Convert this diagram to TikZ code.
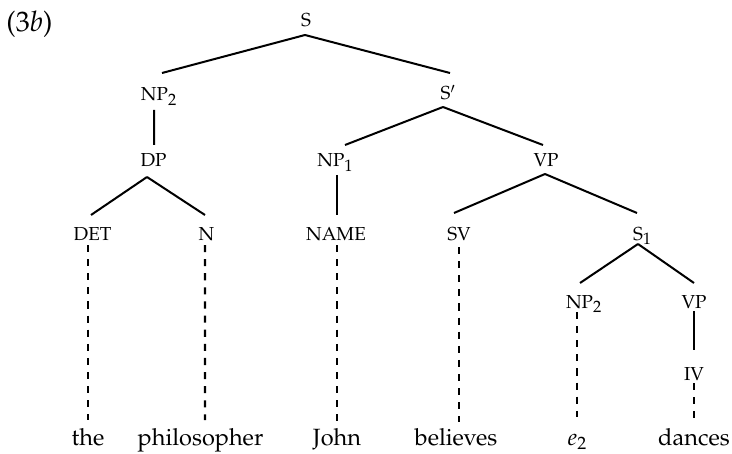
\documentclass[tikz,border=0pt]{standalone}
\usepackage[T1]{fontenc}
\usepackage[sc]{mathpazo}
\usetikzlibrary{calc}
\newcommand{\mysub}[1]{\raisebox{-1.9pt}{\scriptsize #1}}
\begin{document}
\begin{tikzpicture}[x=0.425pt,y=-0.425pt,
  cat/.style={anchor=base,inner sep=0pt,font=\footnotesize},
  word/.style={anchor=base,inner sep=0pt,font=\normalsize},
  branch/.style={line width=0.85pt},
  dashbranch/.style={line width=0.9pt,dash pattern=on 3pt off 3pt}]
\useasboundingbox (0,0) rectangle (732,454);
% label
\node[anchor=base west,inner sep=0pt,font=\large] (lbl) at (6,32) {(3\textit{b})};
% category nodes
\node[cat] (s)    at (306,27)    {S};
\node[cat] (np2)  at (154.5,101) {NP\rlap{\mysub{2}}};
\node[cat] (sp)   at (445.5,100) {S\rlap{$'$}};
\node[cat] (dp)   at (153.5,167) {DP};
\node[cat] (np1)  at (335,167)   {NP\mysub{1}};
\node[cat] (vp)   at (546,167)   {VP};
\node[cat] (det)  at (92.5,240)  {DET};
\node[cat] (n)    at (206.5,240) {N};
\node[cat] (name) at (336,240)   {NAME};
\node[cat] (sv)   at (459,240)   {SV};
\node[cat] (s1)   at (638,240)   {S\rlap{\mysub{1}}};
\node[cat] (np2b) at (579.5,308) {NP\rlap{\mysub{2}}};
\node[cat] (vpb)  at (694,308)   {VP};
\node[cat] (iv)   at (694,380)   {IV};
% words
\node[word] (the)  at (88,445)    {the};
\node[word] (phil) at (200.5,445) {philosopher};
\node[word] (john) at (337,445)   {John};
\node[word] (bel)  at (456,445)   {believes};
\node[word] (e2)   at (577.5,445) {$e_2$};
\node[word] (dan)  at (694,445)   {dances};
% solid branches
\draw[branch] ($(s.base)+(-1,8)$) -- ($(np2.base)+(7.5,-28)$);
\draw[branch] ($(s.base)+(-1,8)$) -- ($(sp.base)+(4.5,-27)$);
\draw[branch] ($(np2.base)+(-0.5,9)$) -- ($(dp.base)+(0.5,-22)$);
\draw[branch] ($(dp.base)+(-6.5,10)$) -- ($(det.base)+(-1.5,-25)$);
\draw[branch] ($(dp.base)+(-6.5,10)$) -- ($(n.base)+(-1.5,-25)$);
\draw[branch] ($(sp.base)+(-2.5,7)$) -- ($(np1.base)+(10,-22)$);
\draw[branch] ($(sp.base)+(-2.5,7)$) -- ($(vp.base)+(-3,-22)$);
\draw[branch] ($(np1.base)+(2,8)$) -- ($(name.base)+(1,-25)$);
\draw[branch] ($(vp.base)+(-1,7)$) -- ($(sv.base)+(-5,-27)$);
\draw[branch] ($(vp.base)+(-1,7)$) -- ($(s1.base)+(-1,-27)$);
\draw[branch] ($(s1.base)+(0,4)$) -- ($(np2b.base)+(0.5,-25)$);
\draw[branch] ($(s1.base)+(0,4)$) -- ($(vpb.base)+(0,-25)$);
\draw[branch] ($(vpb.base)+(0,3)$) -- ($(iv.base)+(0,-30)$);
% dashed branches
\draw[dashbranch] ($(det.base)+(-4.5,5)$) -- ($(the.base)+(0,-25)$);
\draw[dashbranch] ($(n.base)+(-1.5,5)$) -- ($(phil.base)+(4.5,-25)$);
\draw[dashbranch] ($(name.base)+(1,5)$) -- ($(john.base)+(0,-23)$);
\draw[dashbranch] ($(sv.base)+(0,7)$) -- ($(bel.base)+(3,-23)$);
\draw[dashbranch] ($(np2b.base)+(-2.5,4)$) -- ($(e2.base)+(-0.5,-28)$);
\draw[dashbranch] ($(iv.base)+(0,3)$) -- ($(dan.base)+(0,-25)$);
\end{tikzpicture}
\end{document}
